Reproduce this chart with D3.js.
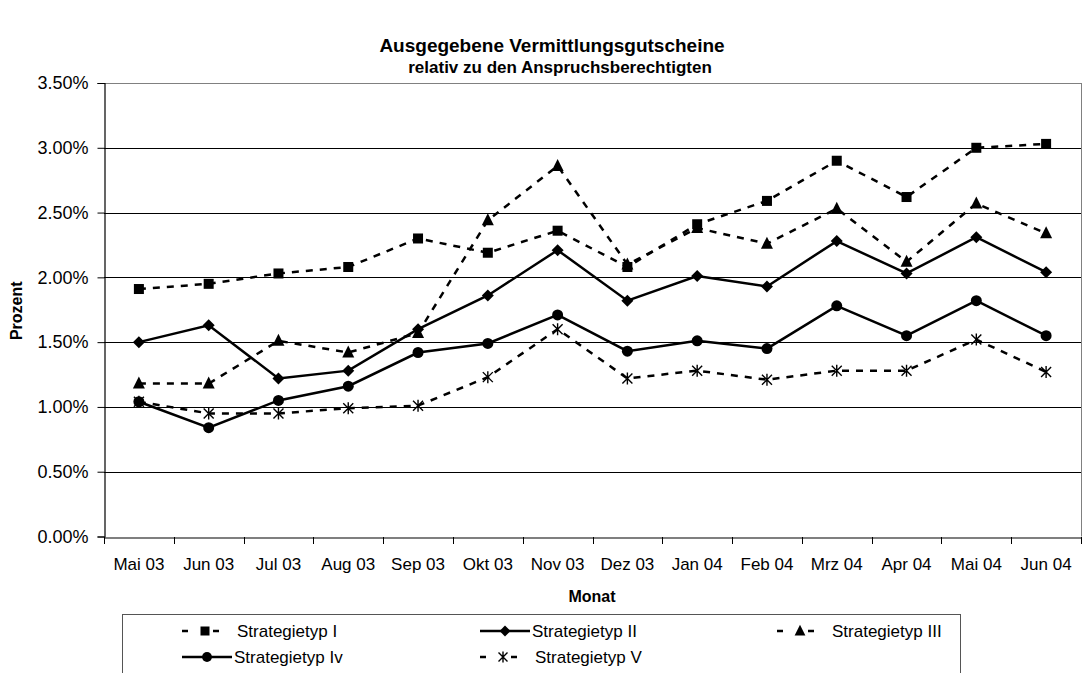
<!DOCTYPE html>
<html><head><meta charset="utf-8">
<script src="https://cdn.jsdelivr.net/npm/d3@7"></script>
<style>body{margin:0;background:#fff;} text{font-family:"Liberation Sans",Arial,sans-serif;fill:#000;}</style>
</head><body>
<svg id="c" width="1082" height="673"></svg>
<script>
const months = ["Mai 03","Jun 03","Jul 03","Aug 03","Sep 03","Okt 03","Nov 03","Dez 03","Jan 04","Feb 04","Mrz 04","Apr 04","Mai 04","Jun 04"];
const yTicks = [0,0.5,1.0,1.5,2.0,2.5,3.0,3.5];
const seriesNames = ["Strategietyp I","Strategietyp II","Strategietyp III","Strategietyp Iv","Strategietyp V"];
const typI   = [1.91,1.95,2.03,2.08,2.30,2.19,2.36,2.08,2.41,2.59,2.90,2.62,3.00,3.03];
const typII  = [1.50,1.63,1.22,1.28,1.60,1.86,2.21,1.82,2.01,1.93,2.28,2.03,2.31,2.04];
const typIII = [1.18,1.18,1.51,1.42,1.57,2.44,2.86,2.10,2.38,2.26,2.53,2.12,2.57,2.34];
const typIV  = [1.04,0.84,1.05,1.16,1.42,1.49,1.71,1.43,1.51,1.45,1.78,1.55,1.82,1.55];
const typV   = [1.04,0.95,0.95,0.99,1.01,1.23,1.60,1.22,1.28,1.21,1.28,1.28,1.52,1.27];

const series = [
  {name:seriesNames[0], values:typI,   dash:"7,7", marker:"square"},
  {name:seriesNames[1], values:typII,  dash:null,  marker:"diamond"},
  {name:seriesNames[2], values:typIII, dash:"7,7", marker:"triangle"},
  {name:seriesNames[3], values:typIV,  dash:null,  marker:"circle"},
  {name:seriesNames[4], values:typV,   dash:"7,7", marker:"asterisk"}
];

const svg = d3.select("#c");
const L=104, R=1081, T=83, B=536.5;
const x = d3.scaleBand().domain(months).range([L,R]);
const y = d3.scaleLinear().domain([0,3.5]).range([B,T]);

// gridlines
svg.append("g").selectAll("line").data(yTicks.filter(d=>d>0)).join("line")
  .attr("x1",L).attr("x2",R).attr("y1",d=>Math.round(y(d))+0.5).attr("y2",d=>Math.round(y(d))+0.5)
  .attr("stroke",d=>d===3.5?"#808080":"#000").attr("stroke-width",1);
// right border
svg.append("line").attr("x1",R+0.5).attr("x2",R+0.5).attr("y1",T).attr("y2",B).attr("stroke","#808080");

// y axis
const yAxis = svg.append("g").attr("transform",`translate(${L+0.5},0)`)
  .call(d3.axisLeft(y).tickValues(yTicks).tickFormat(d=>d.toFixed(2)+"%").tickSize(7).tickPadding(9));
yAxis.select(".domain").attr("stroke","#000").attr("stroke-width",1.2);
yAxis.selectAll(".tick line").attr("stroke","#000");
yAxis.selectAll("text").attr("font-size",18).attr("font-family","Liberation Sans, Arial, sans-serif");

// x axis
const xAxis = svg.append("g").attr("transform",`translate(0,${Math.round(B)+0.5})`)
  .call(d3.axisBottom(x).tickSize(0).tickPadding(20));
xAxis.select(".domain").attr("stroke","#000").attr("stroke-width",1.2);
xAxis.selectAll("text").attr("font-size",17).attr("font-family","Liberation Sans, Arial, sans-serif");
// boundary ticks
const bounds = months.map((m)=>x(m)).concat([R]);
svg.append("g").selectAll("line").data(bounds).join("line")
  .attr("x1",d=>Math.round(d)+0.5).attr("x2",d=>Math.round(d)+0.5)
  .attr("y1",Math.round(B)).attr("y2",Math.round(B)+7).attr("stroke","#000");

// titles
svg.append("text").attr("x",552).attr("y",52).attr("text-anchor","middle")
  .attr("font-weight","bold").attr("font-size",19).text("Ausgegebene Vermittlungsgutscheine");
svg.append("text").attr("x",560).attr("y",73).attr("text-anchor","middle")
  .attr("font-weight","bold").attr("font-size",17).text("relativ zu den Anspruchsberechtigten");
svg.append("text").attr("x",592).attr("y",602).attr("text-anchor","middle")
  .attr("font-weight","bold").attr("font-size",16).text("Monat");
svg.append("text").attr("transform",`translate(22,${(T+B)/2+1}) rotate(-90)`).attr("text-anchor","middle")
  .attr("font-weight","bold").attr("font-size",16).text("Prozent");

// markers
function drawMarker(g, type, cx, cy, k){
  k = k||1;
  if(type==="square"){
    g.append("rect").attr("x",cx-5*k).attr("y",cy-5*k).attr("width",10*k).attr("height",10*k).attr("fill","#000");
  } else if(type==="diamond"){
    g.append("path").attr("d",`M${cx},${cy-6*k}L${cx+6*k},${cy}L${cx},${cy+6*k}L${cx-6*k},${cy}Z`).attr("fill","#000");
  } else if(type==="triangle"){
    g.append("path").attr("d",`M${cx},${cy-7*k}L${cx+6*k},${cy+5*k}L${cx-6*k},${cy+5*k}Z`).attr("fill","#000");
  } else if(type==="circle"){
    g.append("circle").attr("cx",cx).attr("cy",cy).attr("r",5.5*k).attr("fill","#000");
  } else if(type==="asterisk"){
    g.append("path").attr("d",`M${cx-5*k},${cy-5*k}L${cx+5*k},${cy+5*k}M${cx+5*k},${cy-5*k}L${cx-5*k},${cy+5*k}M${cx},${cy-6*k}L${cx},${cy+6*k}`)
      .attr("stroke","#000").attr("stroke-width",1.4).attr("fill","none");
  }
}

const line = d3.line().x((d,i)=>x(months[i])+x.bandwidth()/2).y(d=>y(d));
series.forEach(s=>{
  const g = svg.append("g");
  g.append("path").datum(s.values).attr("d",line).attr("fill","none").attr("stroke","#000")
    .attr("stroke-width",2.5).attr("stroke-dasharray",s.dash);
  s.values.forEach((v,i)=>drawMarker(g,s.marker,x(months[i])+x.bandwidth()/2,y(v)));
});

// legend
svg.append("rect").attr("x",122.5).attr("y",614.5).attr("width",838).attr("height",80)
  .attr("fill","#fff").attr("stroke","#555").attr("stroke-width",1);
const legPos = [[182,631],[480,631],[777,631],[182,657],[480,657]];
series.forEach((s,i)=>{
  const [lx,ly] = legPos[i];
  const g = svg.append("g");
  if(s.dash){
    g.append("line").attr("x1",lx).attr("x2",lx+40).attr("y1",ly).attr("y2",ly).attr("stroke","#000")
      .attr("stroke-width",2.5).attr("stroke-dasharray","6,25");
    drawMarker(g,s.marker,lx+23,ly,0.9);
    g.append("text").attr("x",lx+55).attr("y",ly+6).attr("font-size",17).text(s.name);
  } else {
    g.append("line").attr("x1",lx).attr("x2",lx+50).attr("y1",ly).attr("y2",ly).attr("stroke","#000")
      .attr("stroke-width",2.5);
    drawMarker(g,s.marker,lx+25,ly,0.9);
    g.append("text").attr("x",lx+52).attr("y",ly+6).attr("font-size",17).text(s.name);
  }
});
</script>
</body></html>
